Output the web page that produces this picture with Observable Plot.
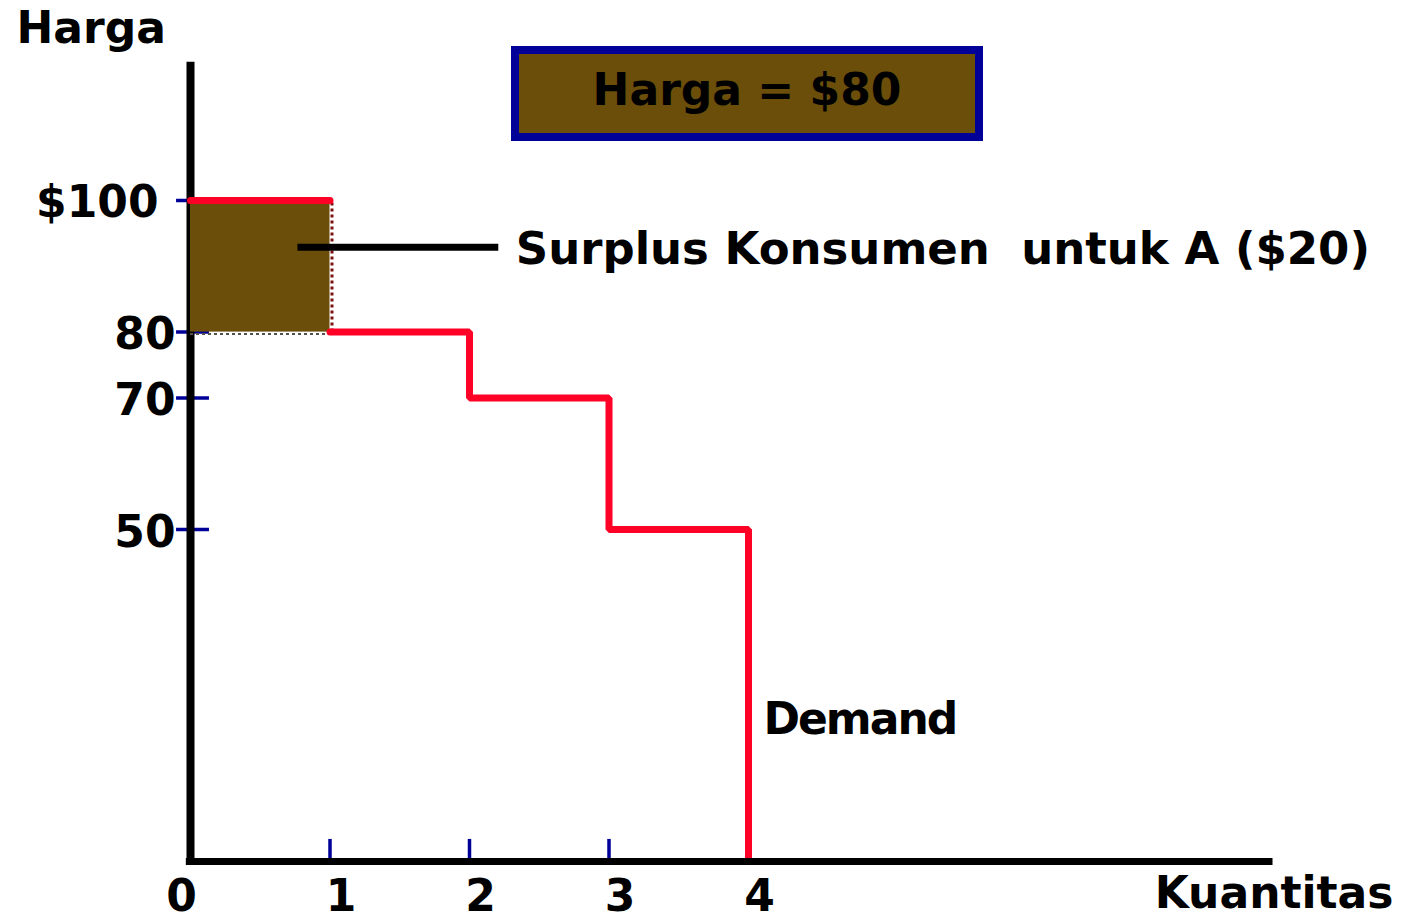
<!DOCTYPE html>
<html><head><meta charset="utf-8">
<script src="https://cdn.jsdelivr.net/npm/d3@7"></script>
<script src="https://cdn.jsdelivr.net/npm/@observablehq/plot@0.6"></script>
<style>
html,body{margin:0;padding:0;background:#fff;}
#wrap{position:relative;width:1403px;height:922px;overflow:hidden;}
#box{position:absolute;left:511px;top:46px;width:456px;height:69px;padding-top:10px;border:8px solid #000099;background:#6a4e0a;color:#000;font:bold 44px "DejaVu Sans";text-align:center;line-height:51px;box-sizing:content-box;white-space:pre;}
</style></head><body>
<div id="wrap"><div id="chart"></div><div id="box"></div></div>
<script>
// Data
const quantities = [1, 2, 3, 4];           // unit number (buyer A, B, C, D)
const prices = [100, 80, 70, 50];          // willingness to pay
const marketPrice = 80;
const xTickValues = [0, 1, 2, 3, 4];
const xTickLabels = ["0", "1", "2", "3", "4"];
const yTickValues = [100, 80, 70, 50];
const yTickLabels = ["$100", "80", "70", "50"];
const yAxisTitle = "Harga";
const xAxisTitle = "Kuantitas";
const demandLabel = "Demand";
const surplusLabel = "Surplus Konsumen\u00a0 untuk A ($20)";
const priceLabel = "Harga = $80";
const leaderX = [0.77, 2.21];
const leaderY = 92.9;
const demandLabelY = 21;
const xMax = 7.76;
const yMax = 121;

const font = "DejaVu Sans";
const red = "#ff0027";
const blue = "#000099";
const brown = "#6a4e0a";

// derived
const firstSeg = [{q: 0, p: prices[0]}, {q: quantities[0], p: prices[0]}];
const stepPts = prices.slice(1).map((p, i) => ({q: quantities[i], p}))
  .concat([{q: quantities[quantities.length - 1], p: 0}]);
const xTicks = xTickValues.map((v, i) => ({v, label: xTickLabels[i]}));
const yTicks = yTickValues.map((v, i) => ({v, label: yTickLabels[i]}));

const chart = Plot.plot({
  width: 1403, height: 922,
  margin: 0,
  style: {background: "#fff", fontFamily: font, overflow: "visible"},
  x: {axis: null, domain: [0, 4], range: [190, 748]},
  y: {axis: null, domain: [0, 100], range: [858, 200]},
  marks: [
    // y ticks
    Plot.ruleY(yTicks, {y: "v", x1: -0.1, x2: 0.136, stroke: blue, strokeWidth: 3.5}),
    // x ticks
    Plot.ruleX(xTicks.filter(d => d.v > 0), {x: "v", y1: 0, y2: 2.9, stroke: blue, strokeWidth: 3.5}),
    // y axis
    Plot.ruleX([0], {y1: -0.9, y2: yMax, stroke: "#000", strokeWidth: 8}),
    // consumer surplus area
    Plot.rectY([{x1: 0, x2: quantities[0], y1: marketPrice, y2: prices[0]}],
      {x1: "x1", x2: "x2", y1: "y1", y2: "y2", fill: brown}),
    Plot.ruleX([quantities[0]], {y1: marketPrice, y2: prices[0], stroke: "#7a1212", strokeWidth: 3, strokeDasharray: "3,3", dx: 2}),
    Plot.ruleY([marketPrice], {x1: 0, x2: quantities[0], stroke: "#55504a", strokeWidth: 2, strokeDasharray: "3,3", dy: 2}),
    // demand curve
    Plot.line(firstSeg, {x: "q", y: "p", stroke: red, strokeWidth: 7}),
    Plot.line(stepPts, {x: "q", y: "p", curve: "step-after", stroke: red, strokeWidth: 7, strokeLinejoin: "miter"}),
    // x axis
    Plot.ruleY([0], {x1: -0.03, x2: xMax, dy: 3, stroke: "#000", strokeWidth: 7}),
    // leader line
    Plot.ruleY([leaderY], {x1: leaderX[0], x2: leaderX[1], stroke: "#000", strokeWidth: 7}),
    // tick labels
    Plot.text(yTicks.filter(d => d.v === 100), {x: 0, y: "v", text: "label", dx: -32, dy: 2, textAnchor: "end", lineAnchor: "middle", fontSize: 44, fontWeight: "bold", fill: "#000"}),
    Plot.text(yTicks.filter(d => d.v !== 100), {x: 0, y: "v", text: "label", dx: -15, dy: 3, textAnchor: "end", lineAnchor: "middle", fontSize: 44, fontWeight: "bold", fill: "#000"}),
    Plot.text(xTicks.filter(d => d.v === 0), {x: "v", y: 0, text: "label", dx: -9, dy: 38, lineAnchor: "middle", fontSize: 44, fontWeight: "bold", fill: "#000"}),
    Plot.text(xTicks.filter(d => d.v > 0), {x: "v", y: 0, text: "label", dx: 11, dy: 38, lineAnchor: "middle", fontSize: 44, fontWeight: "bold", fill: "#000"}),
    // titles
    Plot.text([yAxisTitle], {frameAnchor: "top-left", dx: 16, dy: 28.5, textAnchor: "start", lineAnchor: "middle", fontSize: 44, fontWeight: "bold", fill: "#000"}),
    Plot.text([xAxisTitle], {frameAnchor: "bottom-right", dx: -10, dy: -29, textAnchor: "end", lineAnchor: "middle", fontSize: 44, fontWeight: "bold", fill: "#000"}),
    // annotations
    Plot.text([demandLabel], {x: quantities[quantities.length - 1], y: demandLabelY, dx: 15, textAnchor: "start", lineAnchor: "middle", fontSize: 44, fontWeight: "bold", fill: "#000"}),
    Plot.text([surplusLabel], {x: leaderX[1], y: leaderY, dx: 17, dy: 2, textAnchor: "start", lineAnchor: "middle", fontSize: 45, fontWeight: "bold", fill: "#000"})
  ]
});
d3.select(chart).selectAll("text").filter(function() { return this.textContent === demandLabel; })
  .attr("letter-spacing", -2);
document.getElementById("chart").appendChild(chart);
document.getElementById("box").textContent = priceLabel;
</script>
</body></html>
